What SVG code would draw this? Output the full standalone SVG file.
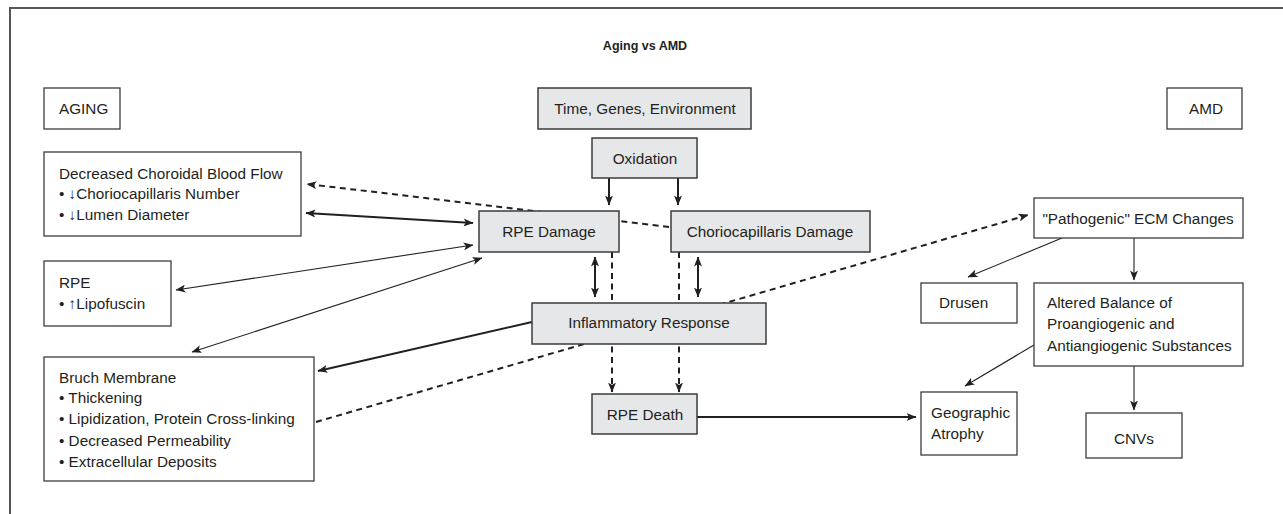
<svg xmlns="http://www.w3.org/2000/svg" width="1283" height="514" viewBox="0 0 1283 514">
<style>
text{font-family:"Liberation Sans",Arial,sans-serif;font-size:15.3px;fill:#231f20}
.t{font-weight:bold;font-size:12.5px}
.c{text-anchor:middle}
.b{fill:#fff;stroke:#3c3c3c;stroke-width:1.3}
.g{fill:#e6e7e8;stroke:#3c3c3c;stroke-width:1.5}
.k{fill:none;stroke:#231f20;stroke-width:2}
.n{fill:none;stroke:#231f20;stroke-width:1.1}
.d{fill:none;stroke:#231f20;stroke-width:2;stroke-dasharray:6 4.5}
.frame{fill:none;stroke:#555;stroke-width:2}
</style>
<defs>
<marker id="ah" markerUnits="userSpaceOnUse" viewBox="0 0 10 8" refX="9.5" refY="4" markerWidth="10" markerHeight="8" orient="auto-start-reverse">
<path d="M0,0 L10,4 L0,8 L2.5,4 z" fill="#231f20"/>
</marker>
</defs>
<rect width="1283" height="514" fill="#fff"/>
<path class="frame" d="M10,514 V8 H1283"/>
<text class="t c" x="645" y="50">Aging vs AMD</text>
<g id="connectors">
<line class="k" x1="609" y1="178" x2="609" y2="205" marker-end="url(#ah)"/>
<line class="k" x1="678" y1="178" x2="678" y2="205" marker-end="url(#ah)"/>
<line class="d" x1="669" y1="227" x2="307" y2="184" marker-end="url(#ah)"/>
<line class="k" x1="306" y1="213" x2="473" y2="223" marker-start="url(#ah)" marker-end="url(#ah)"/>
<line class="n" x1="176" y1="290" x2="473" y2="245" marker-start="url(#ah)" marker-end="url(#ah)"/>
<line class="n" x1="192" y1="352" x2="482" y2="258" marker-start="url(#ah)" marker-end="url(#ah)"/>
<line class="k" x1="595" y1="257" x2="595" y2="297" marker-start="url(#ah)" marker-end="url(#ah)"/>
<line class="k" x1="698" y1="257" x2="698" y2="297" marker-start="url(#ah)" marker-end="url(#ah)"/>
<line class="d" x1="612" y1="252" x2="612" y2="392" marker-end="url(#ah)"/>
<line class="d" x1="679" y1="252" x2="679" y2="392" marker-end="url(#ah)"/>
<line class="k" x1="532" y1="322" x2="318" y2="371" marker-end="url(#ah)"/>
<line class="d" x1="316" y1="422" x2="1028" y2="215" marker-end="url(#ah)"/>
<line class="k" x1="697" y1="417" x2="916" y2="417" marker-end="url(#ah)"/>
<line class="n" x1="1062" y1="238" x2="968" y2="277" marker-end="url(#ah)"/>
<line class="n" x1="1134" y1="238" x2="1134" y2="280" marker-end="url(#ah)"/>
<line class="n" x1="1034" y1="345" x2="965" y2="386" marker-end="url(#ah)"/>
<line class="n" x1="1134" y1="366" x2="1134" y2="410" marker-end="url(#ah)"/>
</g>
<g id="aging"><rect class="b" x="44" y="88" width="76" height="41"/><text x="59" y="114">AGING</text></g>
<g id="amd"><rect class="b" x="1167" y="88" width="75" height="41"/><text x="1189" y="114">AMD</text></g>
<g id="time"><rect class="g" x="538" y="88" width="213" height="41"/><text class="c" x="645" y="114">Time, Genes, Environment</text></g>
<g id="oxidation"><rect class="g" x="592" y="138" width="105" height="40"/><text class="c" x="645" y="164">Oxidation</text></g>
<g id="rpe-damage"><rect class="g" x="479" y="211" width="140" height="41"/><text class="c" x="549" y="237">RPE Damage</text></g>
<g id="chorio-damage"><rect class="g" x="671" y="211" width="199" height="41"/><text class="c" x="770" y="237">Choriocapillaris Damage</text></g>
<g id="inflammatory"><rect class="g" x="532" y="303" width="234" height="41"/><text class="c" x="649" y="328">Inflammatory Response</text></g>
<g id="rpe-death"><rect class="g" x="592" y="394" width="105" height="40"/><text class="c" x="645" y="420">RPE Death</text></g>
<g id="choroidal"><rect class="b" x="44" y="152" width="257" height="84"/>
<text x="59" y="179">Decreased Choroidal Blood Flow</text>
<text x="59" y="199">• ↓Choriocapillaris Number</text>
<text x="59" y="220">• ↓Lumen Diameter</text></g>
<g id="rpe"><rect class="b" x="44" y="261" width="127" height="65"/>
<text x="59" y="288">RPE</text>
<text x="59" y="309">• ↑Lipofuscin</text></g>
<g id="bruch"><rect class="b" x="44" y="357" width="270" height="124"/>
<text x="59" y="383">Bruch Membrane</text>
<text x="59" y="403">• Thickening</text>
<text x="59" y="424">• Lipidization, Protein Cross-linking</text>
<text x="59" y="446">• Decreased Permeability</text>
<text x="59" y="467">• Extracellular Deposits</text></g>
<g id="ecm"><rect class="b" x="1034" y="198" width="209" height="40"/><text class="c" x="1138" y="224">"Pathogenic" ECM Changes</text></g>
<g id="drusen"><rect class="b" x="921" y="283" width="96" height="40"/><text x="939" y="308">Drusen</text></g>
<g id="altered"><rect class="b" x="1034" y="283" width="209" height="83"/>
<text x="1047" y="308">Altered Balance of</text>
<text x="1047" y="329">Proangiogenic and</text>
<text x="1047" y="351">Antiangiogenic Substances</text></g>
<g id="geographic"><rect class="b" x="921" y="392" width="96" height="63"/>
<text x="931" y="418">Geographic</text>
<text x="931" y="439">Atrophy</text></g>
<g id="cnvs"><rect class="b" x="1086" y="413" width="96" height="45"/><text class="c" x="1134" y="444">CNVs</text></g>
</svg>
